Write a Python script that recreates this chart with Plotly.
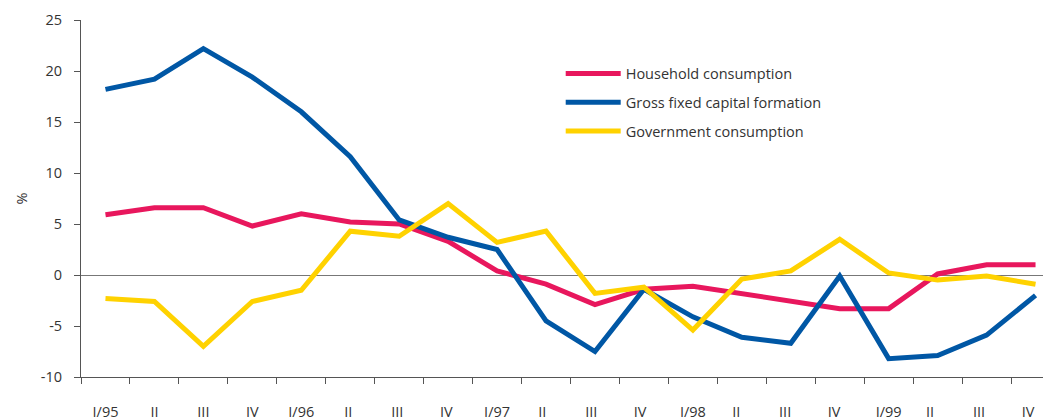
import plotly.graph_objects as go

quarters = ["I/95", "II", "III", "IV", "I/96", "II ", "III ", "IV ", "I/97", "II  ", "III  ", "IV  ",
            "I/98", "II   ", "III   ", "IV   ", "I/99", "II    ", "III    ", "IV    "]

household = [5.9, 6.6, 6.6, 4.8, 6.0, 5.2, 5.0, 3.3, 0.4, -0.9, -2.9, -1.4,
             -1.1, -1.8, -2.5, -3.3, -3.3, 0.1, 1.0, 1.0]
gfcf = [18.2, 19.2, 22.2, 19.4, 16.0, 11.6, 5.4, 3.7, 2.5, -4.5, -7.5, -1.4,
        -4.1, -6.1, -6.7, -0.1, -8.2, -7.9, -5.9, -2.0]
government = [-2.3, -2.6, -7.0, -2.6, -1.5, 4.3, 3.8, 7.0, 3.2, 4.3, -1.8, -1.2,
              -5.4, -0.4, 0.4, 3.5, 0.2, -0.5, -0.1, -0.9]

y_ticks = [-10, -5, 0, 5, 10, 15, 20, 25]
y_tick_labels = ["-10", "-5", "0", "5", "10", "15", "20", "25"]

series = [
    ("Household consumption", household, "#E8175D"),
    ("Gross fixed capital formation", gfcf, "#0057A5"),
    ("Government consumption", government, "#FFD200"),
]

fig = go.Figure()
for i, (name, vals, col) in enumerate(series):
    fig.add_trace(go.Scatter(x=quarters, y=vals, mode="lines", name=name,
                             legendgroup=f"g{i}",
                             line=dict(color=col, width=5)))

# page body has an 8px margin, so the canvas is sized/offset to compensate
fig.update_layout(
    width=1052, height=412,
    margin=dict(l=73, r=0, t=12, b=43),
    paper_bgcolor="white", plot_bgcolor="white",
    font=dict(family="Open Sans", size=14.5, color="#333333"),
    showlegend=True,
    legend=dict(x=0.490, y=0.895, xanchor="left", yanchor="top",
                bgcolor="rgba(0,0,0,0)", font=dict(size=14.5, color="#333333"),
                tracegroupgap=7, itemwidth=55),
)
fig.update_xaxes(
    type="category", range=[-0.5, 19.5], automargin=False,
    showline=True, linecolor="#555555", linewidth=1,
    ticks="outside", tickson="boundaries", ticklen=6, tickcolor="#555555",
    ticklabelstandoff=22, showgrid=False, zeroline=False,
    tickfont=dict(size=14.5, color="#333333"),
)
fig.update_yaxes(
    range=[-10, 25], tickmode="array", tickvals=y_ticks, ticktext=y_tick_labels,
    automargin=False,
    showline=True, linecolor="#555555", linewidth=1,
    ticks="outside", ticklen=6, tickcolor="#555555", ticklabelstandoff=9,
    showgrid=False, zeroline=True, zerolinecolor="#777777", zerolinewidth=1,
    title=dict(text="%", standoff=9, font=dict(size=14.5, color="#333333")),
    tickfont=dict(size=14.5, color="#333333"),
)

fig.write_html("out.html")
